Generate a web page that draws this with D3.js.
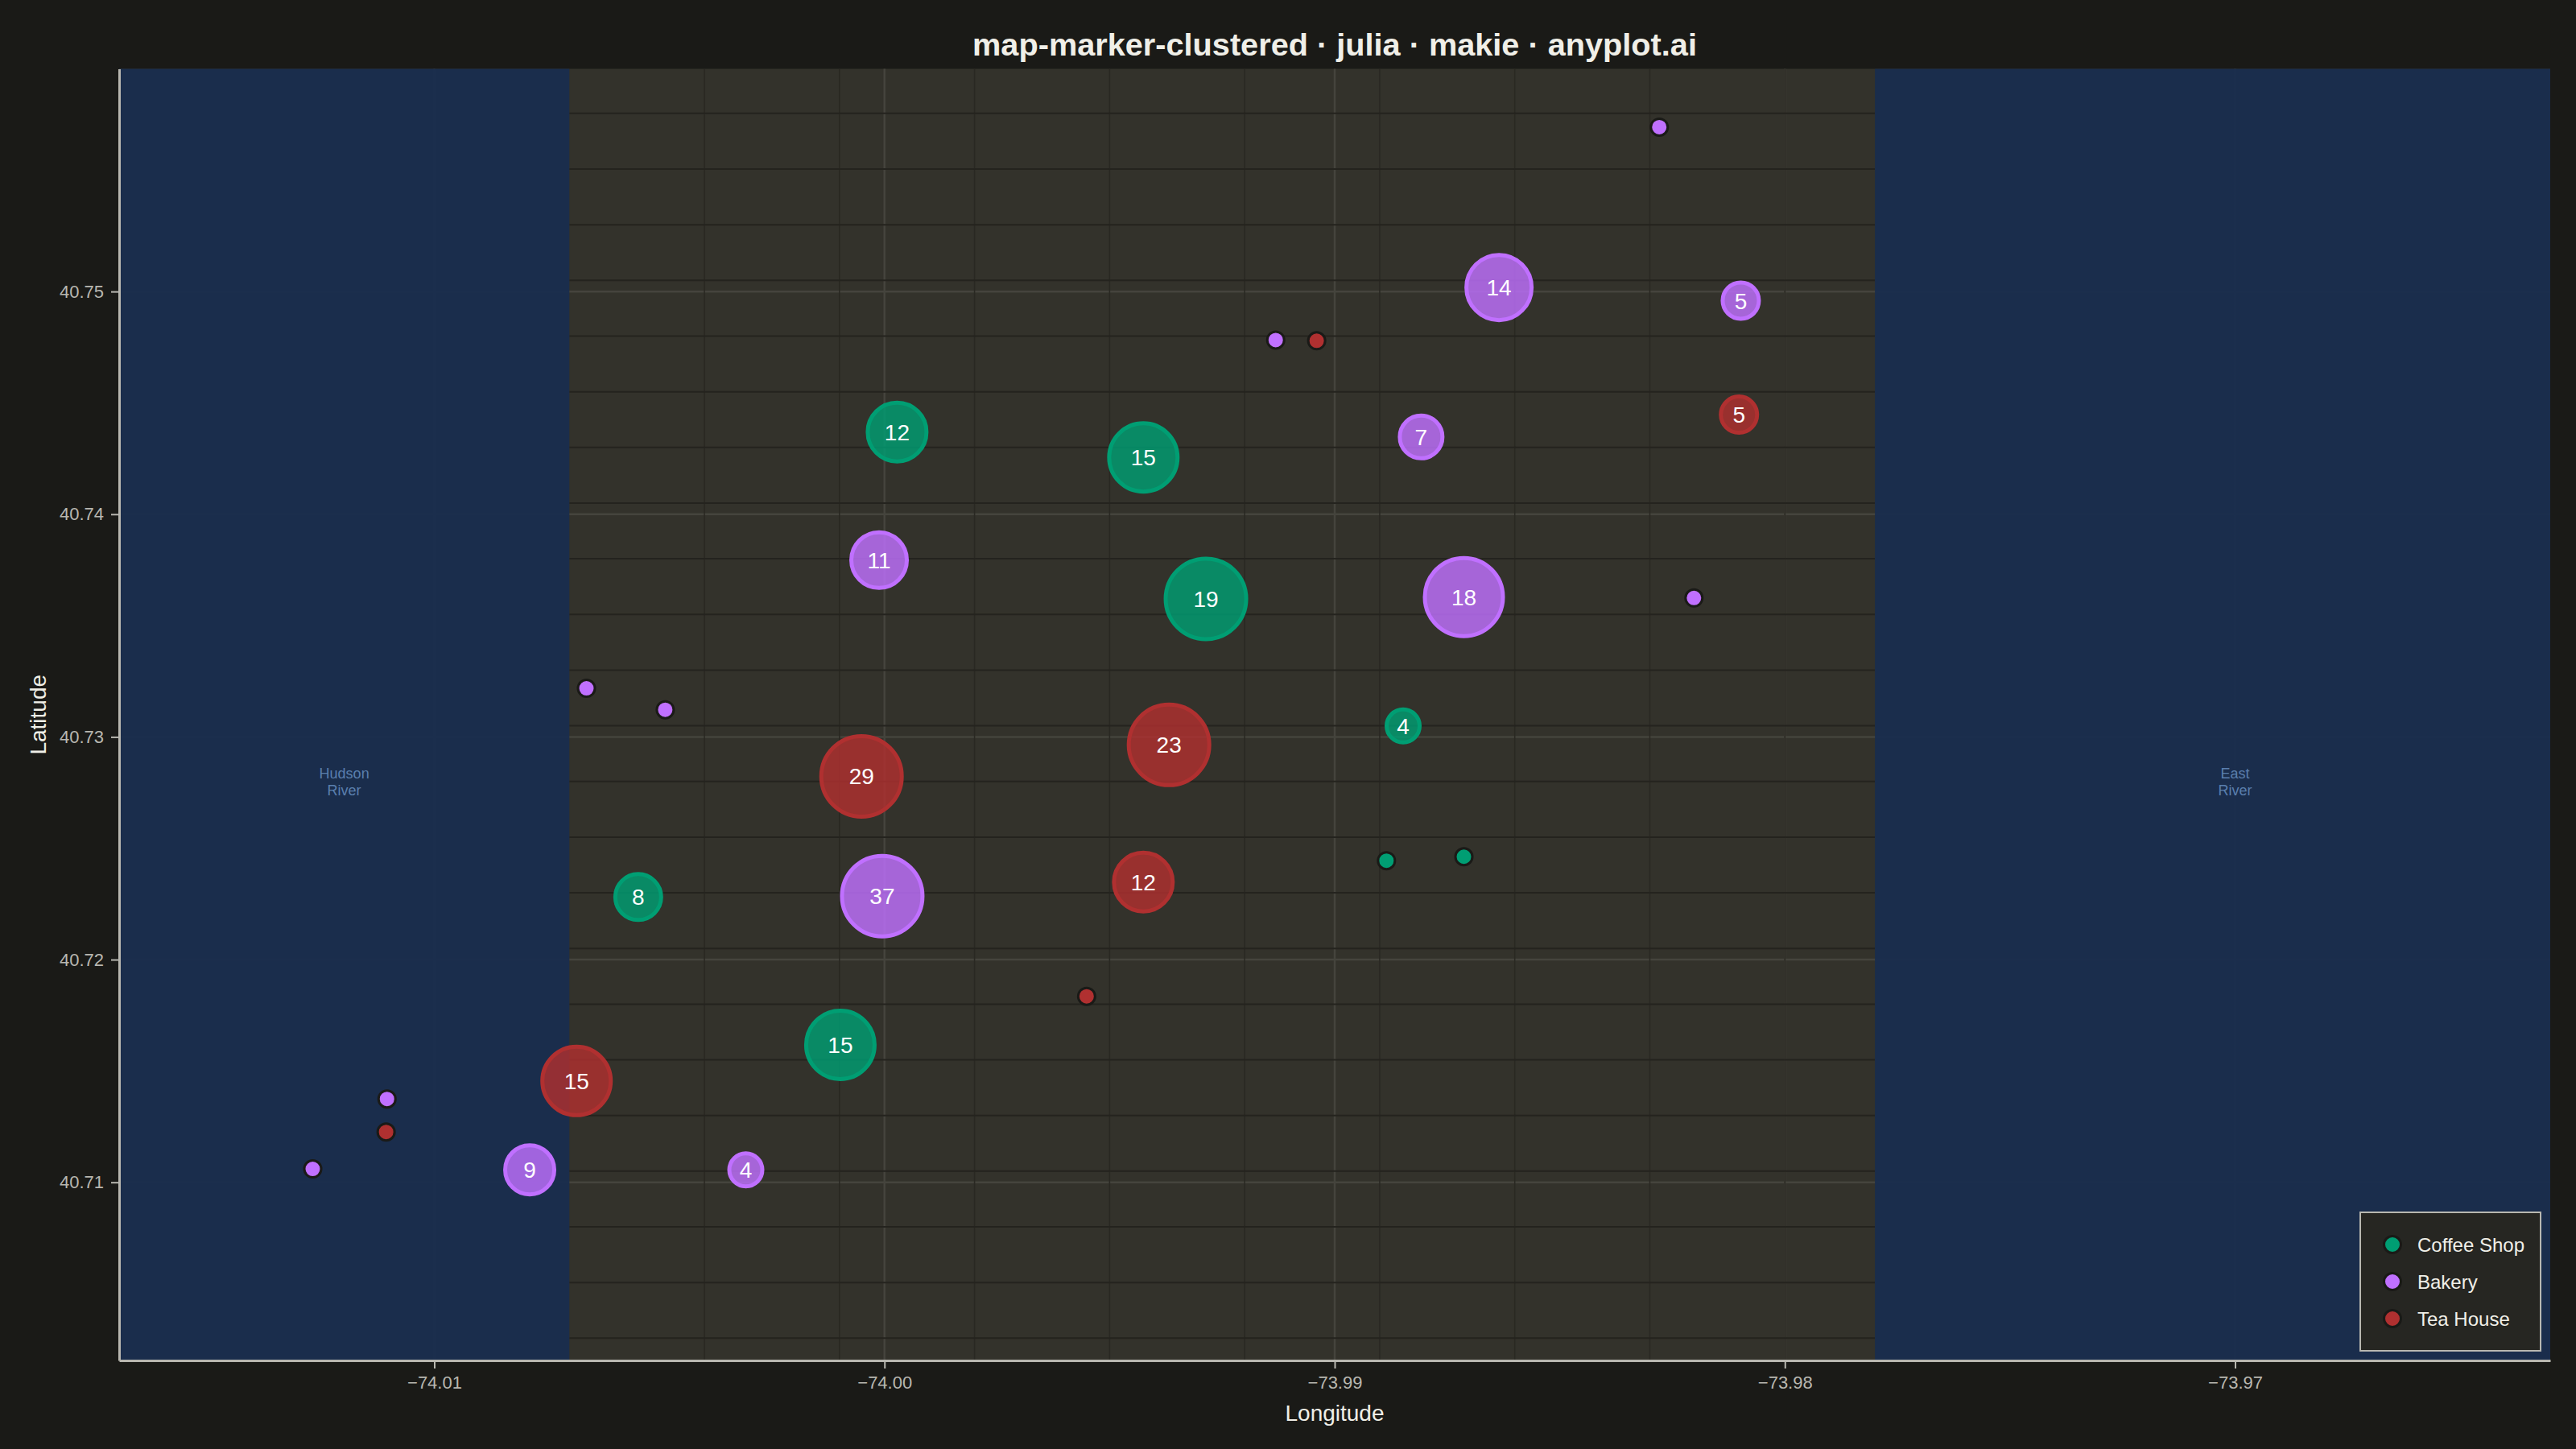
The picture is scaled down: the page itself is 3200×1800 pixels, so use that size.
<!DOCTYPE html>
<html>
<head>
<meta charset="utf-8">
<title>map-marker-clustered</title>
<script src="https://cdn.jsdelivr.net/npm/d3@7"></script>
<style>
  html, body { margin: 0; padding: 0; background: #1a1a17; }
  svg { display: block; }
  text { font-family: "Liberation Sans", Arial, sans-serif; }
</style>
</head>
<body>
<div id="chart"></div>
<script>
// Clusters: longitude, latitude, count (1 = a single marker).
const coffeeLon = [-73.99972, -73.99425, -73.99286, -73.98848, -74.00547, -74.00098, -73.98885, -73.98713];
const coffeeLat = [40.74369, 40.74255, 40.73620, 40.73049, 40.72281, 40.71617, 40.72444, 40.72462];
const coffeeCount = [12, 15, 19, 4, 8, 15, 1, 1];

const bakeryLon = [-73.98279, -73.98635, -73.98098, -73.99131, -73.98808, -74.00012, -73.98713, -73.98202, -74.00662, -74.00487, -74.00005, -74.01105, -74.01270, -74.00788, -74.00308];
const bakeryLat = [40.75738, 40.75018, 40.74959, 40.74782, 40.74347, 40.73794, 40.73628, 40.73624, 40.73218, 40.73122, 40.72285, 40.71374, 40.71060, 40.71056, 40.71056];
const bakeryCount = [1, 14, 5, 1, 7, 11, 18, 1, 1, 1, 37, 1, 1, 9, 4];

const teaLon = [-73.99040, -73.98102, -73.99368, -74.00051, -73.99425, -73.99551, -74.00684, -74.01107];
const teaLat = [40.74779, 40.74447, 40.72964, 40.72823, 40.72348, 40.71835, 40.71455, 40.71226];
const teaCount = [1, 5, 23, 29, 12, 1, 15, 1];

const categories = ['Coffee Shop', 'Bakery', 'Tea House'];
const categoryColors = ['#009e73', '#c070ff', '#b03030'];

const lonTicks = [-74.01, -74.00, -73.99, -73.98, -73.97];
const latTicks = [40.71, 40.72, 40.73, 40.74, 40.75];

const streetLons = [-74.004, -74.001, -73.998, -73.995, -73.992, -73.989, -73.986, -73.983, -73.98];
const streetLats = [40.703, 40.7055, 40.708, 40.7105, 40.713, 40.7155, 40.718, 40.7205, 40.723, 40.7255, 40.728, 40.7305, 40.733, 40.7355, 40.738, 40.7405, 40.743, 40.7455, 40.748, 40.7505, 40.753, 40.7555, 40.758];

const landLons = [-74.007, -73.978];
const lonDomain = [-74.017, -73.963];
const latDomain = [40.702, 40.76];
const riverNames = [['Hudson', 'River'], ['East', 'River']];
const riverLons = [-74.012, -73.97];
const riverLat = 40.728;

const WIDTH = 3200;
const HEIGHT = 1800;
const margin = { top: 85.5, right: 32, bottom: 110, left: 148 };
const width = WIDTH - margin.left - margin.right;
const height = HEIGHT - margin.top - margin.bottom;

const TEXT_COLOR = '#f0efe8';
const TICK_COLOR = '#b8b7b0';

const svg = d3.select('#chart').append('svg')
  .attr('width', WIDTH)
  .attr('height', HEIGHT);

svg.append('rect')
  .attr('width', WIDTH)
  .attr('height', HEIGHT)
  .attr('fill', '#1a1a17');

svg.append('text')
  .attr('x', margin.left + width / 2)
  .attr('y', 69)
  .attr('text-anchor', 'middle')
  .attr('font-size', 39.7)
  .attr('font-weight', 'bold')
  .attr('fill', TEXT_COLOR)
  .text('map-marker-clustered · julia · makie · anyplot.ai');

const plot = svg.append('g')
  .attr('transform', 'translate(' + margin.left + ',' + margin.top + ')');

// Set up X and Y scales.
const xScale = d3.scaleLinear().domain(lonDomain).range([0, width]);
const yScale = d3.scaleLinear().domain(latDomain).range([height, 0]);

// Marker diameter grows with the count and tops out for the big clusters.
const sizeScale = d3.scaleLinear().domain([0, 18.75]).range([30, 105]).clamp(true);

// Land colour under everything, the water goes on top of the grid.
plot.append('rect')
  .attr('width', width)
  .attr('height', height)
  .attr('fill', '#33322b');

plot.selectAll('.major-x').data(lonTicks).join('line')
  .attr('class', 'major-x')
  .attr('x1', d => xScale(d)).attr('x2', d => xScale(d))
  .attr('y1', 0).attr('y2', height)
  .attr('stroke', '#45443d').attr('stroke-width', 2.5);

plot.selectAll('.major-y').data(latTicks).join('line')
  .attr('class', 'major-y')
  .attr('x1', 0).attr('x2', width)
  .attr('y1', d => yScale(d)).attr('y2', d => yScale(d))
  .attr('stroke', '#45443d').attr('stroke-width', 2.5);

// Street lines only on land.
plot.selectAll('.street-x').data(streetLons).join('line')
  .attr('class', 'street-x')
  .attr('x1', d => xScale(d)).attr('x2', d => xScale(d))
  .attr('y1', 0).attr('y2', height)
  .attr('stroke', '#292822').attr('stroke-width', 1.5);

plot.selectAll('.street-y').data(streetLats).join('line')
  .attr('class', 'street-y')
  .attr('x1', xScale(landLons[0])).attr('x2', xScale(landLons[1]))
  .attr('y1', d => yScale(d)).attr('y2', d => yScale(d))
  .attr('stroke', '#24231e').attr('stroke-width', 2);

// Water either side of the land.
const waterBands = [[lonDomain[0], landLons[0]], [landLons[1], lonDomain[1]]];
plot.selectAll('.water').data(waterBands).join('rect')
  .attr('class', 'water')
  .attr('x', d => xScale(d[0]))
  .attr('width', d => xScale(d[1]) - xScale(d[0]))
  .attr('y', 0)
  .attr('height', height)
  .attr('fill', '#192d4e')
  .attr('fill-opacity', 0.95);

riverNames.forEach((lines, i) => {
  plot.append('text')
    .attr('x', xScale(riverLons[i]))
    .attr('y', yScale(riverLat) - 4)
    .attr('text-anchor', 'middle')
    .attr('font-size', 18)
    .attr('fill', '#5a7fae')
    .selectAll('tspan').data(lines).join('tspan')
    .attr('x', xScale(riverLons[i]))
    .attr('dy', (d, j) => j === 0 ? 0 : 21)
    .text(d => d);
});

// Set up and draw X and Y axes.
const minusFormat = d => (d < 0 ? '\u2212' : '') + Math.abs(d).toFixed(2);

const xAxis = d3.axisBottom(xScale)
  .tickValues(lonTicks)
  .tickFormat(minusFormat)
  .tickSizeInner(10)
  .tickSizeOuter(0)
  .tickPadding(9);

const yAxis = d3.axisLeft(yScale)
  .tickValues(latTicks)
  .tickFormat(d => d.toFixed(2))
  .tickSizeInner(10)
  .tickSizeOuter(0)
  .tickPadding(9);

const xAxisG = plot.append('g')
  .attr('transform', 'translate(0,' + height + ')')
  .call(xAxis);

const yAxisG = plot.append('g')
  .call(yAxis);

[xAxisG, yAxisG].forEach(g => {
  g.selectAll('.tick line').attr('stroke', TICK_COLOR).attr('stroke-width', 2);
  g.selectAll('.tick text').attr('fill', TICK_COLOR).attr('font-size', 22)
    .attr('font-family', '"Liberation Sans", Arial, sans-serif');
  g.select('.domain').attr('stroke', TICK_COLOR).attr('stroke-width', 3);
});

svg.append('text')
  .attr('x', margin.left + width / 2)
  .attr('y', 1765)
  .attr('text-anchor', 'middle')
  .attr('font-size', 28)
  .attr('fill', TEXT_COLOR)
  .text('Longitude');

svg.append('text')
  .attr('transform', 'translate(57,' + (margin.top + height / 2) + ') rotate(-90)')
  .attr('text-anchor', 'middle')
  .attr('font-size', 28)
  .attr('fill', TEXT_COLOR)
  .text('Latitude');

// Render one category of markers.
const renderMarkers = function renderMarkers(lons, lats, counts, color) {
  const points = lons.map((lon, i) => ({ lon: lon, lat: lats[i], count: counts[i] }));
  const clusters = points.filter(d => d.count > 1);
  const singles = points.filter(d => d.count === 1);

  const group = plot.append('g');

  group.selectAll('circle.cluster').data(clusters).join('circle')
    .attr('class', 'cluster')
    .attr('cx', d => xScale(d.lon))
    .attr('cy', d => yScale(d.lat))
    .attr('r', d => sizeScale(d.count) / 2 - 2.5)
    .attr('fill', color)
    .attr('fill-opacity', 0.82)
    .attr('stroke', color)
    .attr('stroke-width', 5);

  group.selectAll('circle.single').data(singles).join('circle')
    .attr('class', 'single')
    .attr('cx', d => xScale(d.lon))
    .attr('cy', d => yScale(d.lat))
    .attr('r', 10.5)
    .attr('fill', color)
    .attr('stroke', '#1a1a17')
    .attr('stroke-width', 3);

  group.selectAll('text').data(clusters).join('text')
    .attr('x', d => xScale(d.lon))
    .attr('y', d => yScale(d.lat))
    .attr('dy', '0.36em')
    .attr('text-anchor', 'middle')
    .attr('font-size', 28)
    .attr('fill', '#ffffff')
    .text(d => d.count);
};

renderMarkers(coffeeLon, coffeeLat, coffeeCount, categoryColors[0]);
renderMarkers(bakeryLon, bakeryLat, bakeryCount, categoryColors[1]);
renderMarkers(teaLon, teaLat, teaCount, categoryColors[2]);

// Legend, bottom right inside the plot.
const legend = svg.append('g')
  .attr('transform', 'translate(2932,1506)');

legend.append('rect')
  .attr('width', 224)
  .attr('height', 172)
  .attr('fill', '#262622')
  .attr('stroke', TICK_COLOR)
  .attr('stroke-width', 2);

const legendRows = legend.selectAll('g').data(categories).join('g')
  .attr('transform', (d, i) => 'translate(40,' + (40 + i * 46) + ')');

legendRows.append('circle')
  .attr('r', 10.5)
  .attr('fill', (d, i) => categoryColors[i])
  .attr('stroke', '#1a1a17')
  .attr('stroke-width', 3);

legendRows.append('text')
  .attr('x', 31)
  .attr('dy', '0.36em')
  .attr('font-size', 24)
  .attr('fill', TEXT_COLOR)
  .text(d => d);
</script>
</body>
</html>
